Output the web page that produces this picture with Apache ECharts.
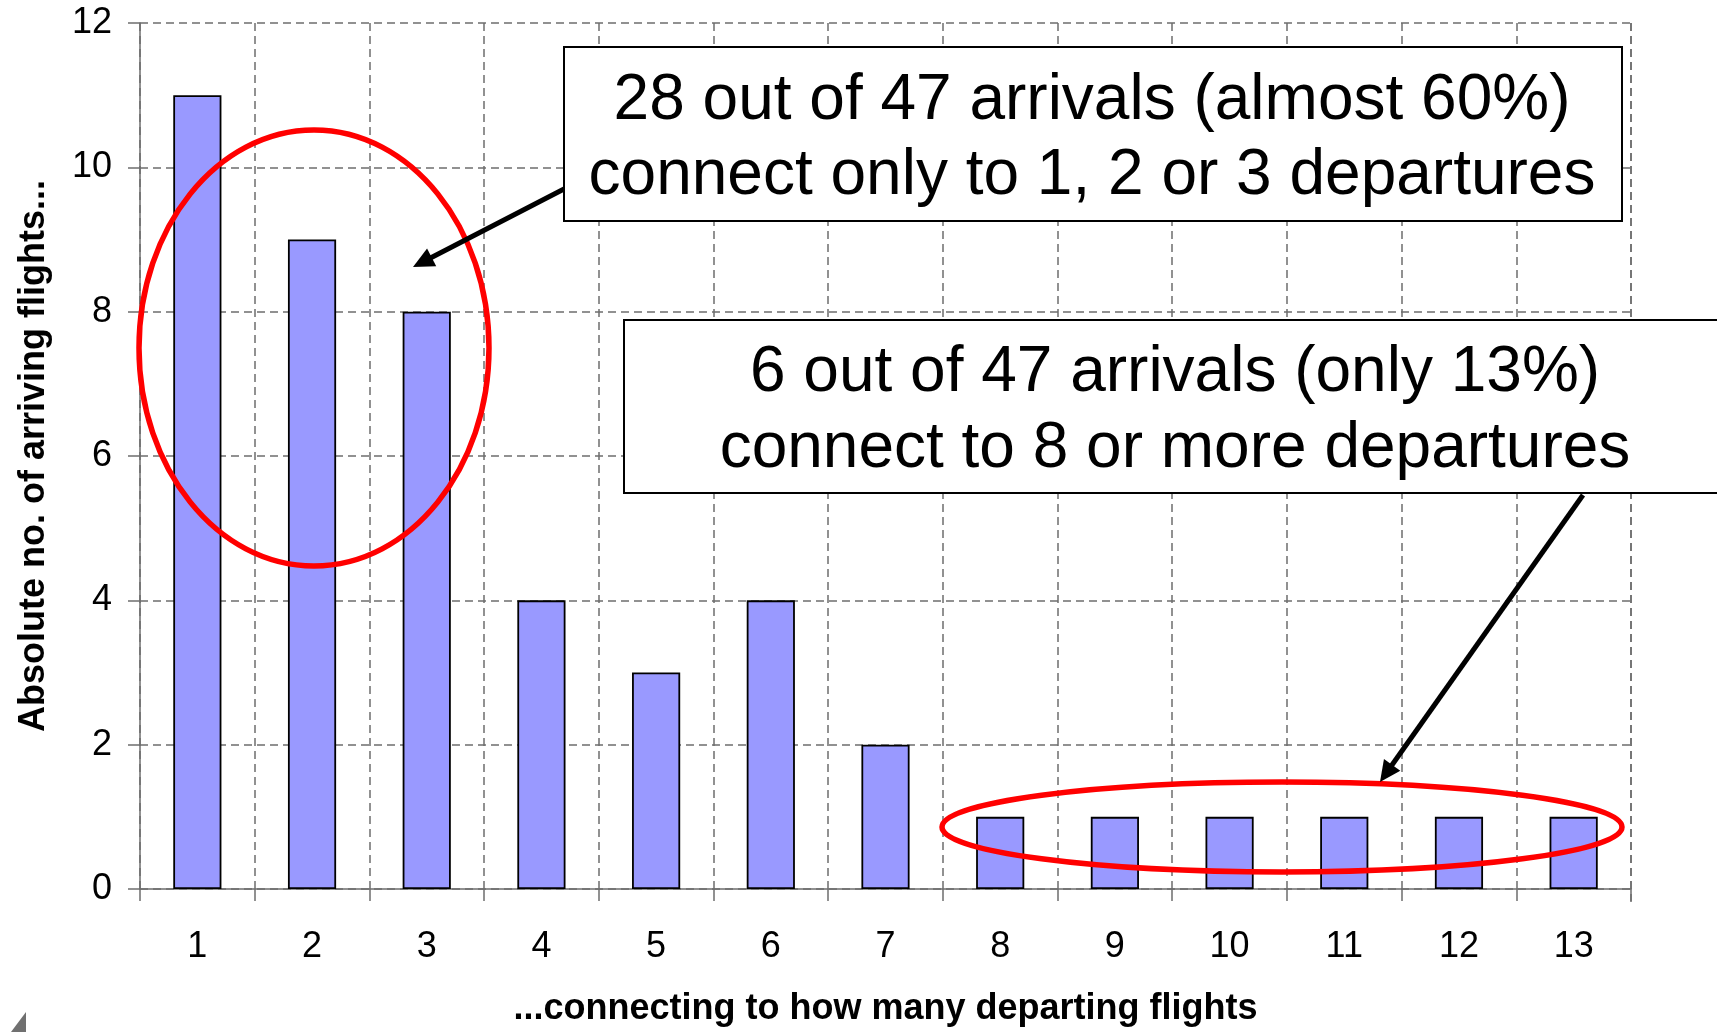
<!DOCTYPE html>
<html>
<head>
<meta charset="utf-8">
<script src="https://cdn.jsdelivr.net/npm/echarts@6/dist/echarts.min.js"></script>
<style>
html,body{margin:0;padding:0;background:#fff;}
#chart{width:1717px;height:1032px;}
</style>
</head>
<body>
<div id="chart"></div>
<script>
// ---- data ----
const categories = ['1','2','3','4','5','6','7','8','9','10','11','12','13'];
const arrivals = [11, 9, 8, 4, 3, 4, 2, 1, 1, 1, 1, 1, 1];
const yTicks = [0, 2, 4, 6, 8, 10, 12];
const xAxisTitle = '...connecting to how many departing flights';
const yAxisTitle = 'Absolute no. of arriving flights...';
const note1 = ['28 out of 47 arrivals (almost 60%)', 'connect only to 1, 2 or 3 departures'];
const note2 = ['6 out of 47 arrivals (only 13%)', 'connect to 8 or more departures'];

const chart = echarts.init(document.getElementById('chart'), null, {renderer: 'canvas'});
const FONT = '"Liberation Sans", Arial, sans-serif';
const gridCol = '#6e6e6e';

function arrowHead(x1, y1, x2, y2, len, half) {
  const dx = x2 - x1, dy = y2 - y1, d = Math.hypot(dx, dy);
  const ux = dx / d, uy = dy / d;
  const bx = x2 - ux * len, by = y2 - uy * len;
  return [[x2, y2], [bx - uy * half, by + ux * half], [bx + uy * half, by - ux * half]];
}
function arrowShaftEnd(x1, y1, x2, y2, len) {
  const dx = x2 - x1, dy = y2 - y1, d = Math.hypot(dx, dy);
  return [x2 - dx / d * (len - 2), y2 - dy / d * (len - 2)];
}
const a1 = [564, 189, 413, 267];
const a2 = [1583, 495, 1380, 782];
const a1e = arrowShaftEnd(...a1, 20), a2e = arrowShaftEnd(...a2, 20);

const textStyleBox = {font: '64px ' + FONT, fill: '#000', textAlign: 'center', textVerticalAlign: 'middle'};

const option = {
  backgroundColor: '#ffffff',
  animation: false,
  grid: {left: 140, right: 86, top: 23, bottom: 130, containLabel: false},
  xAxis: {
    type: 'category',
    data: categories,
    boundaryGap: true,
    name: xAxisTitle,
    nameLocation: 'middle',
    nameGap: 102,
    nameTextStyle: {fontFamily: FONT, fontSize: 36, fontWeight: 'bold', color: '#000'},
    axisLine: {show: true, lineStyle: {color: gridCol, width: 1.5}},
    axisTick: {show: true, alignWithLabel: false, length: 12, lineStyle: {color: gridCol, width: 1.5}},
    axisLabel: {fontFamily: FONT, fontSize: 36, color: '#000', margin: 40},
    splitLine: {show: true, lineStyle: {color: gridCol, width: 1.5, type: [8, 5]}}
  },
  yAxis: {
    type: 'value',
    min: 0, max: 12, interval: 2,
    name: yAxisTitle,
    nameLocation: 'middle',
    nameGap: 88,
    nameRotate: 90,
    nameTextStyle: {fontFamily: FONT, fontSize: 36, fontWeight: 'bold', color: '#000'},
    axisLine: {show: true, lineStyle: {color: gridCol, width: 1.5}},
    axisTick: {show: true, length: 12, lineStyle: {color: gridCol, width: 1.5}},
    axisLabel: {fontFamily: FONT, fontSize: 36, color: '#000', margin: 28,
      formatter: v => yTicks.includes(v) ? String(v) : ''},
    splitLine: {show: true, lineStyle: {color: gridCol, width: 1.5, type: [8, 5]}}
  },
  series: [{
    type: 'bar',
    data: arrivals,
    barWidth: '42%',
    itemStyle: {color: '#9999FF', borderColor: '#000', borderWidth: 1.8},
    silent: true
  }],
  graphic: [
    // right border of plot (dashed)
    {type: 'line', shape: {x1: 1631, y1: 23, x2: 1631, y2: 902}, style: {stroke: gridCol, lineWidth: 1.5, lineDash: [8, 5]}, z: 1},
    // red ellipses
    {type: 'ellipse', shape: {cx: 314, cy: 348, rx: 175, ry: 218}, style: {fill: 'none', stroke: '#FF0000', lineWidth: 5.5}, z: 10},
    {type: 'ellipse', shape: {cx: 1282, cy: 827, rx: 340, ry: 45}, style: {fill: 'none', stroke: '#FF0000', lineWidth: 5.5}, z: 10},
    // arrows
    {type: 'line', shape: {x1: a1[0], y1: a1[1], x2: a1e[0], y2: a1e[1]}, style: {stroke: '#000', lineWidth: 5}, z: 11},
    {type: 'polygon', shape: {points: arrowHead(...a1, 21, 10)}, style: {fill: '#000'}, z: 11},
    {type: 'line', shape: {x1: a2[0], y1: a2[1], x2: a2e[0], y2: a2e[1]}, style: {stroke: '#000', lineWidth: 5}, z: 11},
    {type: 'polygon', shape: {points: arrowHead(...a2, 21, 10)}, style: {fill: '#000'}, z: 11},
    // annotation boxes
    {type: 'rect', shape: {x: 564, y: 47, width: 1058, height: 174}, style: {fill: '#fff', stroke: '#000', lineWidth: 2}, z: 12},
    {type: 'text', x: 1092, y: 101, style: Object.assign({text: note1[0]}, textStyleBox), z: 13},
    {type: 'text', x: 1092, y: 176, style: Object.assign({text: note1[1]}, textStyleBox), z: 13},
    {type: 'rect', shape: {x: 624, y: 320, width: 1200, height: 173}, style: {fill: '#fff', stroke: '#000', lineWidth: 2}, z: 12},
    {type: 'text', x: 1175, y: 373, style: Object.assign({text: note2[0]}, textStyleBox), z: 13},
    {type: 'text', x: 1175, y: 449, style: Object.assign({text: note2[1]}, textStyleBox), z: 13},
    // small corner triangle
    {type: 'polygon', shape: {points: [[11, 1032], [26, 1012], [26, 1032]]}, style: {fill: '#707070'}, z: 5}
  ]
};
chart.setOption(option);
</script>
</body>
</html>
